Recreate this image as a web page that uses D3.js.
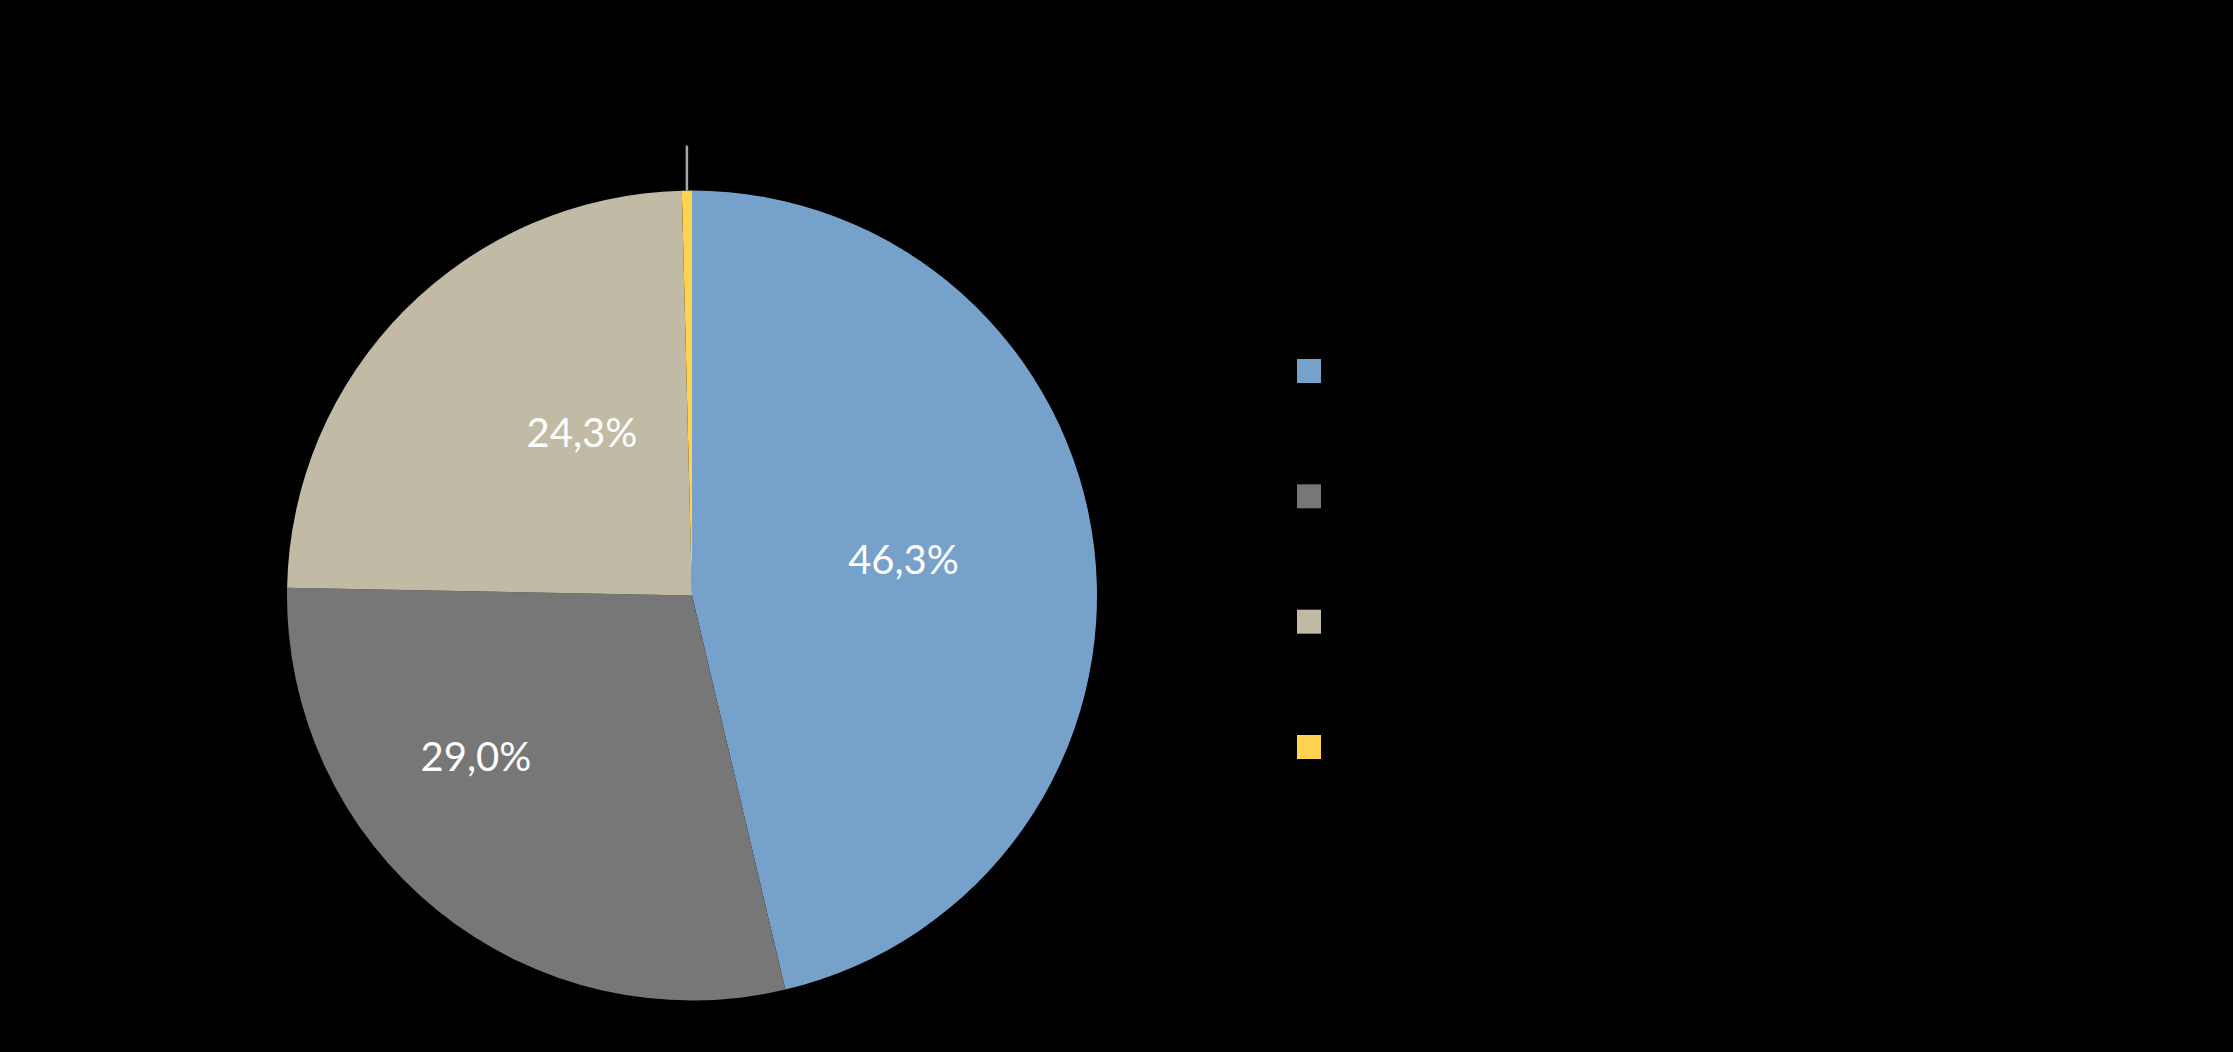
<!DOCTYPE html>
<html>
<head>
<meta charset="utf-8">
<script src="https://cdn.jsdelivr.net/npm/d3@7"></script>
<style>
  html, body { margin: 0; padding: 0; background: #000; }
  svg { display: block; }
</style>
</head>
<body>
<script>
// ---- data ----
const categories = ["s1", "s2", "s3", "s4"];
const values = [46.3, 29.0, 24.3, 0.4];
const labels = ["46,3%", "29,0%", "24,3%", "0,4%"];
const colors = ["#75A1CA", "#777777", "#C1BAA5", "#FFD24F"];

// ---- layout ----
const W = 2233, H = 1052;
const cx = 692, cy = 595.5, R = 405;
const labelR = 220;
// Excel "best fit" label nudges (px) relative to arc centroid
const labelNudge = [[-7, -11], [-78, -11], [46, -8], [0, 0]];

const svg = d3.select("body").append("svg")
  .attr("width", W).attr("height", H)
  .style("background", "#000");

const pie = d3.pie().sort(null).value(d => d)(values);
const arc = d3.arc().innerRadius(0).outerRadius(R);
const labelArc = d3.arc().innerRadius(labelR).outerRadius(labelR);

const g = svg.append("g").attr("transform", `translate(${cx},${cy})`);

g.selectAll("path.slice").data(pie).join("path")
  .attr("class", "slice")
  .attr("d", arc)
  .attr("fill", (d, i) => colors[i]);

// labels for large slices (white, inside)
g.selectAll("text.lbl").data(pie.filter((d, i) => i < 3)).join("text")
  .attr("class", "lbl")
  .attr("x", (d) => labelArc.centroid(d)[0] + labelNudge[d.index][0])
  .attr("y", (d) => labelArc.centroid(d)[1] + labelNudge[d.index][1])
  .attr("text-anchor", "middle")
  .attr("dominant-baseline", "central")
  .attr("font-family", "Lato, 'Open Sans', sans-serif")
  .attr("font-size", 40)
  .attr("fill", "#ffffff")
  .text(d => labels[d.index]);

// leader line for the tiny slice
const tiny = pie[3];
const midA = (tiny.startAngle + tiny.endAngle) / 2;
g.append("line")
  .attr("x1", R * Math.sin(midA)).attr("y1", -R * Math.cos(midA))
  .attr("x2", R * Math.sin(midA)).attr("y2", -(R + 45) * Math.cos(midA))
  .attr("stroke", "#a6a6a6")
  .attr("stroke-width", 2.5);

// legend
const legendY = d3.scalePoint().domain(categories).range([359, 735]);
svg.append("g").selectAll("rect").data(categories).join("rect")
  .attr("x", 1297)
  .attr("y", d => legendY(d))
  .attr("width", 24).attr("height", 24)
  .attr("fill", (d, i) => colors[i]);
</script>
</body>
</html>
